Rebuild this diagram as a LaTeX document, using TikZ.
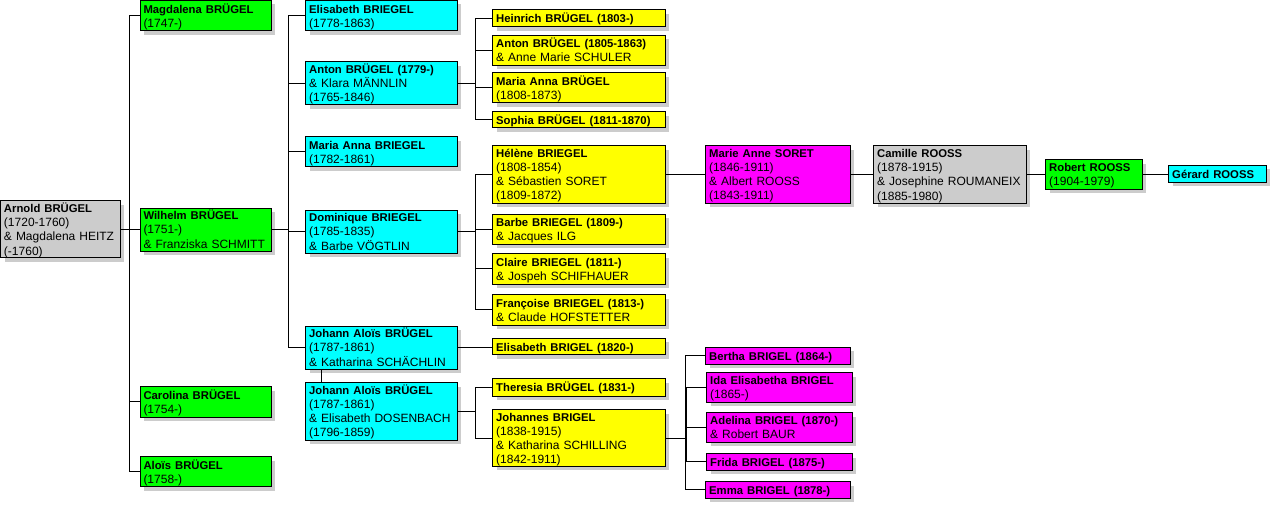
\documentclass[tikz,border=0pt]{standalone}
\usepackage{fontspec}
\setmainfont{Liberation Sans}
\usetikzlibrary{shadows}

\definecolor{famgrey}{HTML}{CCCCCC}
\definecolor{famgreen}{HTML}{00FF00}
\definecolor{famcyan}{HTML}{00FFFF}
\definecolor{famyellow}{HTML}{FFFF00}
\definecolor{fammagenta}{HTML}{FF00FF}
\definecolor{shadowgrey}{HTML}{CCCCCC}

\newcommand{\pname}[1]{{\fontsize{11.3}{14}\bfseries\selectfont #1}}
\newcommand{\pstrut}{\rule[-2.4pt]{0pt}{14pt}}

\begin{document}
\begin{tikzpicture}[x=1pt,y=1pt,
    person/.style={draw, line width=1pt, anchor=north west, outer sep=0pt,
      inner xsep=3.5pt, inner ysep=0pt, align=left, text width=#1,
      font=\fontsize{12}{14}\selectfont,
      execute at begin node=\pstrut, execute at end node=\pstrut,
      drop shadow={shadow xshift=4pt, shadow yshift=-4pt, fill=shadowgrey, opacity=1}},
    link/.style={line width=1pt}]
  \useasboundingbox (0,0) rectangle (1273,-505);

  % first generations
  \node[person=112.8pt, fill=famgrey, minimum height=56.5pt] (arnold) at (0.5,-200.5)
    {\pname{Arnold BRÜGEL}\\(1720-1760)\\\& Magdalena HEITZ\\(-1760)};
  \node[person=124pt, fill=famgreen, minimum height=30.5pt] (magd) at (140,-0.5)
    {\pname{Magdalena BRÜGEL}\\(1747-)};
  \node[person=124pt, fill=famgreen, minimum height=42.7pt] (wilh) at (140,-208)
    {\pname{Wilhelm BRÜGEL}\\(1751-)\\\& Franziska SCHMITT};
  \node[person=124pt, fill=famgreen, minimum height=30.5pt] (caro) at (140,-386.5)
    {\pname{Carolina BRÜGEL}\\(1754-)};
  \node[person=124pt, fill=famgreen, minimum height=30.2pt] (alois) at (140,-456.5)
    {\pname{Aloïs BRÜGEL}\\(1758-)};

  \node[person=144.3pt, fill=famcyan, minimum height=30.5pt] (elis) at (305.7,-0.5)
    {\pname{Elisabeth BRIEGEL}\\(1778-1863)};
  \node[person=144.3pt, fill=famcyan, minimum height=43.3pt] (anton) at (305.7,-61.7)
    {\pname{Anton BRÜGEL (1779-)}\\\& Klara MÄNNLIN\\(1765-1846)};
  \node[person=144.3pt, fill=famcyan, minimum height=30.3pt] (maria) at (305.7,-136.7)
    {\pname{Maria Anna BRIEGEL}\\(1782-1861)};
  \node[person=144.3pt, fill=famcyan, minimum height=42.7pt] (domin) at (305.7,-210)
    {\pname{Dominique BRIEGEL}\\(1785-1835)\\\& Barbe VÖGTLIN};
  \node[person=144.3pt, fill=famcyan, minimum height=43pt] (ja1) at (305.7,-326)
    {\pname{Johann Aloïs BRÜGEL}\\(1787-1861)\\\& Katharina SCHÄCHLIN};
  \node[person=144.3pt, fill=famcyan, minimum height=57.3pt] (ja2) at (305.7,-382.7)
    {\pname{Johann Aloïs BRÜGEL}\\(1787-1861)\\\& Elisabeth DOSENBACH\\(1796-1859)};

  % grandchildren
  \node[person=165.6pt, fill=famyellow, minimum height=17.3pt] (heinr) at (492.7,-9.7)
    {\pname{Heinrich BRÜGEL (1803-)}};
  \node[person=165.6pt, fill=famyellow, minimum height=30pt] (antonj) at (492.7,-35.3)
    {\pname{Anton BRÜGEL (1805-1863)}\\\& Anne Marie SCHULER};
  \node[person=165.6pt, fill=famyellow, minimum height=30.3pt] (mariab) at (492.7,-72.7)
    {\pname{Maria Anna BRÜGEL}\\(1808-1873)};
  \node[person=165.6pt, fill=famyellow, minimum height=16.3pt] (sophia) at (492.7,-111.7)
    {\pname{Sophia BRÜGEL (1811-1870)}};
  \node[person=165.6pt, fill=famyellow, minimum height=57.3pt] (helene) at (492.7,-145.7)
    {\pname{Hélène BRIEGEL}\\(1808-1854)\\\& Sébastien SORET\\(1809-1872)};
  \node[person=165.6pt, fill=famyellow, minimum height=30pt] (barbe) at (492.7,-214)
    {\pname{Barbe BRIEGEL (1809-)}\\\& Jacques ILG};
  \node[person=165.6pt, fill=famyellow, minimum height=30.3pt] (claire) at (492.7,-253.7)
    {\pname{Claire BRIEGEL (1811-)}\\\& Jospeh SCHIFHAUER};
  \node[person=165.6pt, fill=famyellow, minimum height=30.3pt] (franc) at (492.7,-294.7)
    {\pname{Françoise BRIEGEL (1813-)}\\\& Claude HOFSTETTER};
  \node[person=165.6pt, fill=famyellow, minimum height=16.7pt] (elisb) at (492.7,-338.2)
    {\pname{Elisabeth BRIGEL (1820-)}};
  \node[person=165.6pt, fill=famyellow, minimum height=17.3pt] (theres) at (492.7,-378.7)
    {\pname{Theresia BRÜGEL (1831-)}};
  \node[person=165.6pt, fill=famyellow, minimum height=56.6pt] (johs) at (492.7,-409.7)
    {\pname{Johannes BRIGEL}\\(1838-1915)\\\& Katharina SCHILLING\\(1842-1911)};

  \node[person=137.3pt, fill=fammagenta, minimum height=57.3pt] (soret) at (705.7,-145.7)
    {\pname{Marie Anne SORET}\\(1846-1911)\\\& Albert ROOSS\\(1843-1911)};
  \node[person=137.3pt, fill=fammagenta, minimum height=16.7pt] (bertha) at (705.7,-347.3)
    {\pname{Bertha BRIGEL (1864-)}};
  \node[person=138.3pt, fill=fammagenta, minimum height=29.3pt] (ida) at (706.7,-372.7)
    {\pname{Ida Elisabetha BRIGEL}\\(1865-)};
  \node[person=138.3pt, fill=fammagenta, minimum height=29.3pt] (adel) at (706.7,-412.7)
    {\pname{Adelina BRIGEL (1870-)}\\\& Robert BAUR};
  \node[person=138.3pt, fill=fammagenta, minimum height=16.3pt] (frida) at (706.7,-453.7)
    {\pname{Frida BRIGEL (1875-)}};
  \node[person=137.3pt, fill=fammagenta, minimum height=16.3pt] (emma) at (705.7,-481.7)
    {\pname{Emma BRIGEL (1878-)}};

  \node[person=145.6pt, fill=famgrey, minimum height=57.3pt] (camille) at (873.7,-145.7)
    {\pname{Camille ROOSS}\\(1878-1915)\\\& Josephine ROUMANEIX\\(1885-1980)};
  \node[person=89.3pt, fill=famgreen, minimum height=29.3pt] (robert) at (1045.7,-159.7)
    {\pname{Robert ROOSS}\\(1904-1979)};
  \node[person=90.6pt, fill=famcyan, minimum height=17pt] (gerard) at (1168.7,-165.3)
    {\pname{Gérard ROOSS}};

  % connectors
  \foreach \c in {magd,wilh,caro,alois}
    \draw[link] (arnold.east) -| ([xshift=-10.3pt]\c.west) -- (\c.west);
  \foreach \c in {elis,anton,maria,domin,ja1}
    \draw[link] (wilh.east) -| ([xshift=-17.2pt]\c.west) -- (\c.west);
  \draw[link] ([xshift=16pt]ja1.south west) -- ([xshift=16pt]ja2.north west);
  \foreach \c in {heinr,antonj,mariab,sophia}
    \draw[link] (anton.east) -| ([xshift=-17.4pt]\c.west) -- (\c.west);
  \foreach \c in {helene,barbe,claire,franc}
    \draw[link] (domin.east) -| ([xshift=-17.4pt]\c.west) -- (\c.west);
  \draw[link] (ja1.east) -- (ja1.east -| elisb.west);
  \foreach \c in {theres,johs}
    \draw[link] (ja2.east) -| ([xshift=-17.4pt]\c.west) -- (\c.west);
  \foreach \c in {bertha,ida,adel,frida,emma}
    \draw[link] (johs.east) -| ([xshift=-20.5pt]\c.west) -- (\c.west);
  \draw[link] (helene.east) -- (soret.west);
  \draw[link] (soret.east) -- (camille.west);
  \draw[link] (camille.east) -- (robert.west);
  \draw[link] (robert.east) -- (robert.east -| gerard.west);
\end{tikzpicture}
\end{document}
